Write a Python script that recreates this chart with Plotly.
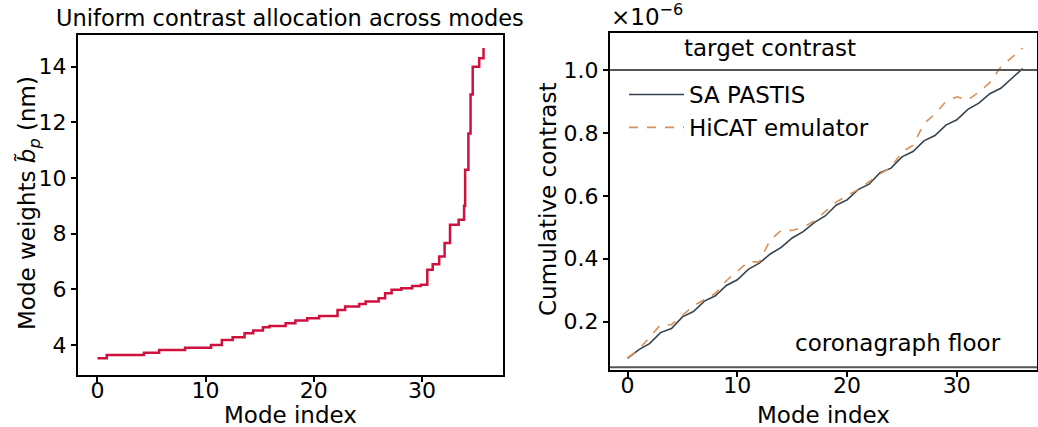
import plotly.graph_objects as go

# ---- Left panel data: mode weights (step breakpoints) ----
mode_x_left = [0, 0.86, 4.3, 5.7, 8.1, 10.5, 11.5, 12.5, 13.6, 14.4, 15.3, 15.9, 17.4, 18.3,
               19.4, 20.5, 22.2, 22.9, 24.2, 24.8, 26.0, 26.6, 27.2, 28.1, 29.1, 29.9, 30.5,
               31.0, 31.6, 32.1, 32.6, 33.4, 33.9, 34.0, 34.3, 34.5, 34.7, 35.3, 35.7]
mode_weights = [3.52, 3.64, 3.72, 3.82, 3.9, 4.0, 4.18, 4.28, 4.42, 4.52, 4.64, 4.68, 4.78, 4.88,
                4.96, 5.04, 5.26, 5.38, 5.47, 5.56, 5.68, 5.86, 5.98, 6.04, 6.12, 6.16, 6.7,
                6.9, 7.18, 7.66, 8.32, 8.5, 9.0, 10.3, 11.6, 13.0, 14.0, 14.3, 14.67]

# ---- Right panel data: cumulative contrast (units of 1e-6) ----
modes = list(range(37))
sa_pastis = [0.083, 0.11, 0.13, 0.165, 0.178, 0.215, 0.232, 0.265, 0.282, 0.315, 0.333, 0.366,
             0.386, 0.415, 0.436, 0.466, 0.486, 0.515, 0.536, 0.57, 0.587, 0.62, 0.637, 0.674,
             0.688, 0.724, 0.741, 0.775, 0.792, 0.825, 0.842, 0.875, 0.895, 0.925, 0.942,
             0.975, 1.005]
hicat = [0.085, 0.11, 0.15, 0.19, 0.19, 0.22, 0.25, 0.27, 0.29, 0.33, 0.36, 0.39, 0.39,
         0.46, 0.49, 0.49, 0.5, 0.52, 0.55, 0.58, 0.6, 0.62, 0.645, 0.67, 0.69, 0.74, 0.76,
         0.83, 0.86, 0.90, 0.915, 0.905, 0.93, 0.96, 1.01, 1.04, 1.07]
target_contrast = 1.0
coronagraph_floor = 0.055

left_xticks = [0, 10, 20, 30]
left_yticks = [4, 6, 8, 10, 12, 14]
right_xticks = [0, 10, 20, 30]
right_yticks = [0.2, 0.4, 0.6, 0.8, 1.0]

FONT = "DejaVu Sans"
FS = 23
TFS = 22
W, H = 1038, 427

fig = go.Figure()

fig.add_trace(go.Scatter(x=mode_x_left, y=mode_weights, mode="lines", line_shape="hv",
                         line=dict(color="#d0103e", width=2.5), showlegend=False,
                         xaxis="x", yaxis="y"))

fig.add_trace(go.Scatter(x=modes, y=sa_pastis, mode="lines", name="SA PASTIS",
                         line=dict(color="#34434f", width=1.6), xaxis="x2", yaxis="y2"))
fig.add_trace(go.Scatter(x=modes, y=hicat, mode="lines", name="HiCAT emulator",
                         line=dict(color="#d8925c", width=1.6, dash="dash"),
                         xaxis="x2", yaxis="y2"))

# horizontal reference lines
for yv in [target_contrast, coronagraph_floor]:
    fig.add_shape(type="line", xref="x2 domain", yref="y2", x0=0, x1=1, y0=yv, y1=yv,
                  line=dict(color="#555555", width=2))

ax_common = dict(showline=True, linecolor="black", linewidth=2, mirror=True,
                 ticks="outside", ticklen=5, tickwidth=1.5, tickcolor="black",
                 showgrid=False, zeroline=False,
                 tickfont=dict(family=FONT, size=TFS, color="black"))

L0, L1 = 78 / W, 503 / W
R0, R1 = 610 / W, 1037 / W

fig.update_layout(
    width=W, height=H,
    margin=dict(l=0, r=0, t=0, b=0),
    paper_bgcolor="white", plot_bgcolor="white",
    font=dict(family=FONT, size=FS, color="black"),
    xaxis=dict(domain=[L0, L1], range=[-1.8, 37.5], tickvals=left_xticks,
               anchor="y", **ax_common),
    yaxis=dict(domain=[1 - 375 / H, 1 - 35 / H], range=[2.92, 15.14], tickvals=left_yticks,
               anchor="x", **ax_common),
    xaxis2=dict(domain=[R0, R1], range=[-1.6, 37.3], tickvals=right_xticks,
                anchor="y2", **ax_common),
    yaxis2=dict(domain=[1 - 370 / H, 1 - 33 / H], range=[0.046, 1.118], tickvals=right_yticks,
                tickformat=".1f", anchor="x2", **ax_common),
    legend=dict(x=624 / W, y=1 - 73 / H, xanchor="left", yanchor="top",
                bgcolor="rgba(255,255,255,0)", borderwidth=0,
                font=dict(family=FONT, size=FS, color="black"),
                itemwidth=55, tracegroupgap=0),
)

# pull x tick labels closer to the frame
for ax in ("xaxis", "xaxis2"):
    try:
        fig.layout[ax].ticklabelstandoff = -10
    except Exception:
        fig.layout[ax].ticklen = 3

ann = [
    dict(text="Uniform contrast allocation across modes", x=(58 + 522) / 2 / W, y=1 - 18 / H,
         xref="paper", yref="paper", showarrow=False, xanchor="center", yanchor="middle",
         font=dict(size=22.5)),
    dict(text="Mode index", x=(78 + 503) / 2 / W, y=1 - 415 / H, xref="paper", yref="paper",
         showarrow=False, xanchor="center", yanchor="middle"),
    dict(text="Mode index", x=(610 + 1037) / 2 / W, y=1 - 415 / H, xref="paper", yref="paper",
         showarrow=False, xanchor="center", yanchor="middle"),
    dict(text="Mode weights <i>b̃<sub>p</sub></i> (nm)", x=29 / W, y=1 - 203 / H,
         xref="paper", yref="paper", showarrow=False, textangle=-90,
         xanchor="center", yanchor="middle"),
    dict(text="Cumulative contrast", x=548 / W, y=1 - 200 / H, xref="paper", yref="paper",
         showarrow=False, textangle=-90, xanchor="center", yanchor="middle"),
    dict(text="×10<sup>−6</sup>", x=609 / W, y=1 - 15 / H, xref="paper", yref="paper",
         showarrow=False, xanchor="left", yanchor="middle"),
    dict(text="target contrast", x=13.0, y=1.07, xref="x2", yref="y2", showarrow=False,
         xanchor="center", yanchor="middle"),
    dict(text="coronagraph floor", x=24.6, y=0.132, xref="x2", yref="y2", showarrow=False,
         xanchor="center", yanchor="middle"),
]
fig.update_layout(annotations=ann)

fig.write_html("out.html", config={"displayModeBar": False},
               post_script="document.body.style.margin='0';")
